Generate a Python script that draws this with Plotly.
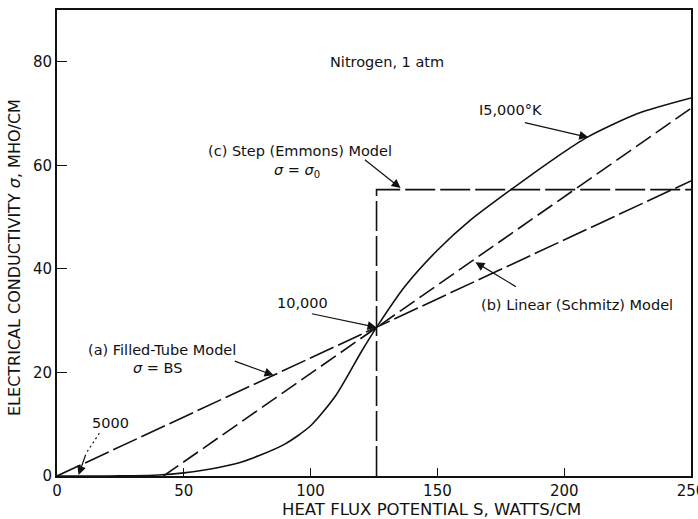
import plotly.graph_objects as go

# Heat flux potential S (W/cm) and electrical conductivity sigma (mho/cm), nitrogen at 1 atm
s_actual = [0, 20, 30, 40, 50, 60, 70, 80, 90, 100, 110, 120, 126, 137, 150, 163, 179, 197, 209, 229, 250]
sigma_actual = [0, 0, 0.05, 0.2, 0.6, 1.3, 2.3, 4.0, 6.2, 9.7, 15.6, 24.0, 28.7, 36.5, 43.6, 49.4, 55.3, 61.6, 65.4, 70.0, 73.0]

# (a) Filled-tube model, sigma = B*S
s_filled = [0, 126, 250]
sigma_filled = [0, 28.7, 57.0]

# (b) Linear (Schmitz) model
s_linear = [42, 126, 250]
sigma_linear = [0, 28.7, 71.0]

# (c) Step (Emmons) model, sigma = sigma_0
s_step = [126, 126, 250]
sigma_step = [0, 55.3, 55.3]

x_ticks = [0, 50, 100, 150, 200, 250]
y_ticks = [0, 20, 40, 60, 80]

# Labels: (text, x, y)
labels = [
    ("Nitrogen, 1 atm", 130.0, 80.0),
    ("(c) Step (Emmons) Model", 95.9, 62.7),
    ("<i>σ</i> = <i>σ</i><sub>0</sub>", 94.7, 59.0),
    ("I5,000°K", 178.7, 70.6),
    ("10,000", 96.7, 33.5),
    ("(b) Linear (Schmitz) Model", 205.0, 33.1),
    ("(a) Filled-Tube Model", 41.5, 24.3),
    ("<i>σ</i> = BS", 39.6, 20.8),
    ("5000", 21.0, 10.2),
]

# Leader arrows: (tail x, tail y, tip x, tip y)
arrows = [
    (120.8, 61.3, 135.5, 55.6),
    (183.9, 68.3, 209.5, 65.4),
    (99.9, 31.4, 126.0, 28.7),
    (181.5, 36.4, 165.0, 41.3),
    (69.5, 22.3, 85.4, 19.45),
    (11.5, 4.4, 8.5, 0.2),
]

# Dotted leader from the "5000" label
dotted_x = [16.7, 11.5]
dotted_y = [8.25, 4.4]

ink = "#111111"
font_family = "DejaVu Sans"

W, H = 698, 519
plot_l, plot_r, plot_t, plot_b = 57, 7, 10, 43
pw, ph = W - plot_l - plot_r, H - plot_t - plot_b

fig = go.Figure()

fig.add_trace(go.Scatter(x=s_step, y=sigma_step, mode="lines",
                         line=dict(color=ink, width=1.6, dash="30px,5px")))
fig.add_trace(go.Scatter(x=s_filled, y=sigma_filled, mode="lines",
                         line=dict(color=ink, width=1.6, dash="26px,5px")))
fig.add_trace(go.Scatter(x=s_linear, y=sigma_linear, mode="lines",
                         line=dict(color=ink, width=1.6, dash="18px,6px")))
fig.add_trace(go.Scatter(x=s_actual, y=sigma_actual, mode="lines",
                         line=dict(color=ink, width=1.6, shape="spline", smoothing=0.7)))
fig.add_trace(go.Scatter(x=dotted_x, y=dotted_y, mode="lines",
                         line=dict(color=ink, width=1.2, dash="2px,3px")))

annotations = []
for text, x, y in labels:
    annotations.append(dict(x=x, y=y, xref="x", yref="y", text=text, showarrow=False,
                            xanchor="center", yanchor="middle",
                            font=dict(family=font_family, size=14.5, color=ink)))
for tx, ty, hx, hy in arrows:
    annotations.append(dict(x=hx, y=hy, ax=tx, ay=ty, xref="x", yref="y", axref="x", ayref="y",
                            text="", showarrow=True, arrowhead=2, arrowsize=1.5,
                            arrowwidth=1.2, arrowcolor=ink, standoff=0, startstandoff=0))


def px_to_paper(px, py):
    return (px - plot_l) / pw, (H - plot_b - py) / ph


# Axis titles, placed by pixel position below and left of the plot area
xt_x, xt_y = px_to_paper(431, 509)
annotations.append(dict(x=xt_x, y=xt_y, xref="paper", yref="paper",
                        text="HEAT FLUX POTENTIAL S, WATTS/CM", xanchor="center", yanchor="middle",
                        showarrow=False, font=dict(family=font_family, size=16.5, color=ink)))
yt_x, yt_y = px_to_paper(14, 258)
annotations.append(dict(x=yt_x, y=yt_y, xref="paper", yref="paper",
                        text="ELECTRICAL CONDUCTIVITY <i>σ</i>, MHO/CM", textangle=-90,
                        xanchor="center", yanchor="middle",
                        showarrow=False, font=dict(family=font_family, size=16, color=ink)))

fig.update_layout(
    width=W, height=H,
    margin=dict(l=plot_l, r=plot_r, t=plot_t, b=plot_b, autoexpand=False),
    paper_bgcolor="white", plot_bgcolor="white",
    showlegend=False,
    font=dict(family=font_family, size=15, color=ink),
    annotations=annotations,
)
fig.update_xaxes(range=[0, 250], tickvals=x_ticks, ticktext=[str(v) for v in x_ticks],
                 ticks="inside", ticklen=8, tickwidth=1.3, tickcolor=ink,
                 showline=True, linewidth=2, linecolor=ink, mirror=True,
                 showgrid=False, zeroline=False, tickfont=dict(size=15),
                 ticklabeloverflow="allow", automargin=False)
fig.update_yaxes(range=[0, 90], tickvals=y_ticks, ticktext=[str(v) for v in y_ticks],
                 ticks="inside", ticklen=10, tickwidth=1.3, tickcolor=ink,
                 showline=True, linewidth=2, linecolor=ink, mirror=True,
                 showgrid=False, zeroline=False, tickfont=dict(size=15),
                 automargin=False)

fig.write_html("out.html")
